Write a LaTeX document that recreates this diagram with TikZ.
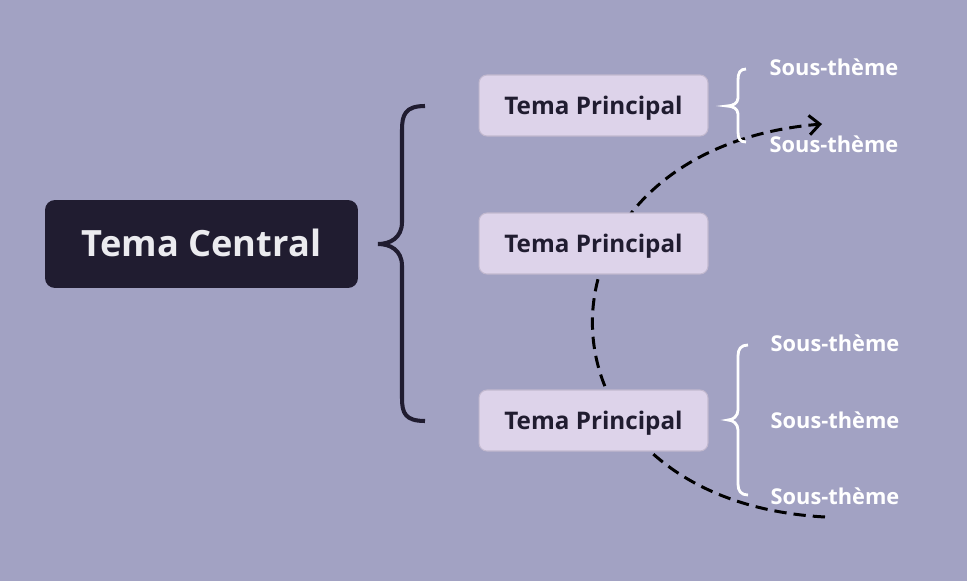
\documentclass[tikz,border=0pt]{standalone}
\usepackage{fontspec}
\setmainfont{Open Sans}
\usetikzlibrary{arrows.meta}

\definecolor{bgcol}{HTML}{A2A2C3}
\definecolor{darkcol}{HTML}{201C30}
\definecolor{boxcol}{HTML}{DDD3EA}
\definecolor{boxline}{HTML}{C2B9CF}
\definecolor{lighttext}{HTML}{EBEBEF}

\tikzset{
  centralbox/.style={fill=darkcol, rounded corners=0.2cm, minimum width=6.26cm,
    minimum height=1.76cm, text=lighttext, text height=14.7pt, text depth=0pt,
    font=\fontsize{20.6}{24}\selectfont\bfseries},
  mainbox/.style={fill=boxcol, draw=boxline, line width=0.6pt, rounded corners=0.16cm,
    minimum width=4.58cm, minimum height=1.22cm, text=darkcol,
    text height=9.9pt, text depth=0pt,
    font=\fontsize{13.8}{16}\selectfont\bfseries},
  subtext/.style={text=white, text height=8.9pt, text depth=0pt,
    font=\fontsize{12.4}{14}\selectfont\bfseries},
  bigbrace/.style={draw=darkcol, line width=2.3pt},
  smallbrace/.style={draw=white, line width=1.6pt},
  dashline/.style={draw=black, line width=1.7pt, dash pattern=on 7pt off 4pt,
    -{Straight Barb[length=6pt,width=11pt]}}
}

\begin{document}
\begin{tikzpicture}[x=0.02cm, y=-0.02cm]
 \fill[bgcol] (0,0) rectangle (967,581);
 \useasboundingbox (0,0) rectangle (967,581);

 % dashed curve, behind the boxes
 \coordinate (from) at (825,517);
 \coordinate (to)   at (822,124);
 \draw[dashline] (from) .. controls (516,500) and (516,150) .. (to);

 % CENTRAL
 \node[centralbox] (c) at (201.5,244) {Tema Central};

 % MAIN TOPICS
 \node[mainbox] (p1) at (593.5,105.5) {Tema Principal};
 \node[mainbox] (p2) at (593.5,243.5) {Tema Principal};
 \node[mainbox] (p3) at (593.5,420.5) {Tema Principal};

 % SUB TOPICS
 \node[subtext] (s1) at (834,68)  {Sous-thème};
 \node[subtext] (s2) at (834,145) {Sous-thème};
 \node[subtext] (s3) at (835,344) {Sous-thème};
 \node[subtext] (s4) at (835,421) {Sous-thème};
 \node[subtext] (s5) at (835,497) {Sous-thème};

 % BRACES
 \draw[bigbrace] (425,106) .. controls (405,106) and (402,115) .. (402,130)
   -- (402,222) .. controls (402,238) and (390,244) .. (378,244)
   .. controls (390,244) and (402,250) .. (402,266)
   -- (402,398) .. controls (402,413) and (405,421) .. (425,421);

 \draw[smallbrace] (746,69) .. controls (740,69) and (738,73) .. (738,80)
   -- (738,98) .. controls (738,103) and (733,106) .. (727,106)
   .. controls (733,106) and (738,109) .. (738,114)
   -- (738,132) .. controls (738,139) and (740,142) .. (746,142);

 \draw[smallbrace] (748,345) .. controls (741,345) and (738,349) .. (738,356)
   -- (738,410) .. controls (738,416) and (733,420) .. (728,420)
   .. controls (733,420) and (738,424) .. (738,430)
   -- (738,484) .. controls (738,491) and (741,495) .. (748,495);

\end{tikzpicture}
\end{document}
